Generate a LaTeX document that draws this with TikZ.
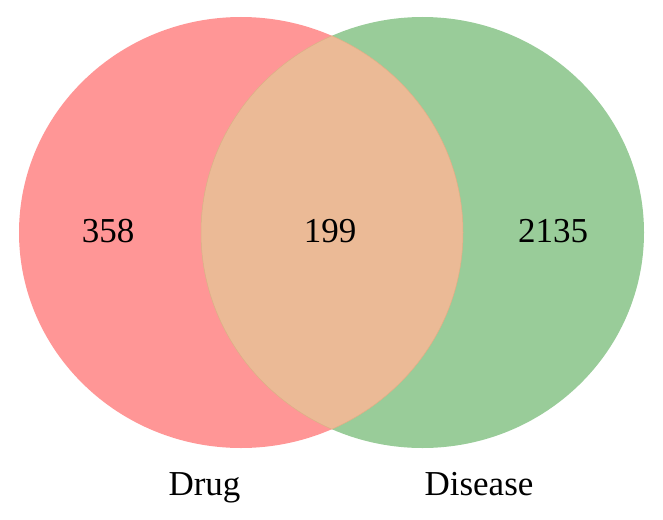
\documentclass[tikz,border=0pt]{standalone}
\usepackage{fontspec}
\setmainfont{Liberation Serif}
\definecolor{drugred}{RGB}{255,150,150}
\definecolor{diseasegreen}{RGB}{153,204,153}
\definecolor{bothtan}{RGB}{235,186,150}
\tikzset{
  setlabel/.style={anchor=base, font=\fontsize{35}{42}\selectfont},
  countlabel/.style={anchor=base, font=\fontsize{35}{42}\selectfont}
}
\begin{document}
\begin{tikzpicture}[x=1pt, y=-1pt]
  \useasboundingbox (0,0) rectangle (663,519);
  % the two sets
  \fill[drugred] (241,232.5) ellipse [x radius=222, y radius=215.5];
  \fill[diseasegreen] (422.5,232.5) ellipse [x radius=221.5, y radius=215.5];
  % overlap
  \begin{scope}
    \clip (241,232.5) ellipse [x radius=222, y radius=215.5];
    \fill[bothtan] (422.5,232.5) ellipse [x radius=221.5, y radius=215.5];
  \end{scope}
  \begin{scope}
    \clip (241,232.5) ellipse [x radius=222, y radius=215.5];
    \draw[bothtan!80!brown, line width=0.5pt] (422.5,232.5) ellipse [x radius=221.5, y radius=215.5];
  \end{scope}
  \begin{scope}
    \clip (422.5,232.5) ellipse [x radius=221.5, y radius=215.5];
    \draw[bothtan!80!brown, line width=0.5pt] (241,232.5) ellipse [x radius=222, y radius=215.5];
  \end{scope}
  % counts
  \node[countlabel] (onlydrug) at (108,242) {358};
  \node[countlabel] (both) at (330,242) {199};
  \node[countlabel] (onlydisease) at (553,242) {2135};
  % set names
  \node[setlabel] (drug) at (204.5,495) {Drug};
  \node[setlabel] (disease) at (479,495) {Disease};
\end{tikzpicture}
\end{document}
